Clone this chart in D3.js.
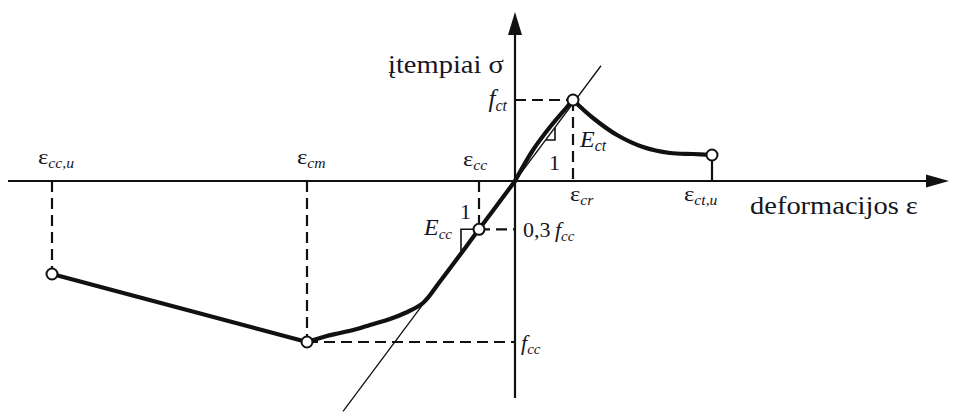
<!DOCTYPE html>
<html>
<head>
<meta charset="utf-8">
<script src="https://cdn.jsdelivr.net/npm/d3@7"></script>
<style>
  body { margin: 0; background: #fff; }
  svg { display: block; }
  text { font-family: "Liberation Serif", "Times New Roman", serif; fill: #16161f; }
</style>
</head>
<body>
<svg id="chart" width="955" height="414"></svg>
<script>
// Concrete stress–strain diagram (schematic units, compression negative)
const epsCCU = -4.63, epsCM = -2.08, epsCC = -0.36, epsCR = 0.58, epsCTU = 1.97;
const fct = 0.81, fcc = -1.61, sigCCU = -0.93, sigCTU = 0.26;
const sig03 = 0.3 * fcc;          // 0,3 f_cc
const E0 = 1.34;                  // slope of the initial modulus line
const tangentEps = [-1.72, 0.86];

const compressionEps = [0, epsCC, -0.75, -0.92, -1.10, -1.25, -1.45, -1.58, -1.75, -1.90, epsCM];
const compressionSig = [0, sig03, -1.005, -1.22, -1.32, -1.38, -1.44, -1.48, -1.52, -1.555, fcc];
const softeningEps = [epsCM, epsCCU];
const softeningSig = [fcc, sigCCU];
const tensionRiseEps = [0, 0.18, 0.35, 0.52, epsCR];
const tensionRiseSig = [0, 0.31, 0.54, 0.74, fct];
const tensionFallEps = [epsCR, 0.78, 1.02, 1.28, 1.55, 1.78, epsCTU];
const tensionFallSig = [fct, 0.63, 0.46, 0.34, 0.28, 0.27, sigCTU];

const markerEps = [epsCCU, epsCM, epsCC, epsCR, epsCTU];
const markerSig = [sigCCU, fcc, sig03, fct, sigCTU];

const svg = d3.select("#chart");
const x = d3.scaleLinear().domain([-5.07, 4.34]).range([8, 949]);
const y = d3.scaleLinear().domain([-2.17, 1.69]).range([398, 12]);
const X0 = x(0), Y0 = y(0);
const INK = "#111";

// axes with arrow heads
svg.append("line").attr("x1", x(-5.07)).attr("x2", x(4.34) - 20).attr("y1", Y0).attr("y2", Y0)
  .attr("stroke", INK).attr("stroke-width", 2.2);
svg.append("path").attr("d", `M${x(4.34)},${Y0} L${x(4.34) - 23},${Y0 - 6.5} L${x(4.34) - 23},${Y0 + 6.5} Z`).attr("fill", INK);
svg.append("line").attr("x1", X0).attr("x2", X0).attr("y1", y(-2.17)).attr("y2", y(1.69) + 20)
  .attr("stroke", INK).attr("stroke-width", 2.2);
svg.append("path").attr("d", `M${X0},${y(1.69)} L${X0 - 7},${y(1.69) + 23} L${X0 + 7},${y(1.69) + 23} Z`).attr("fill", INK);

// dashed guide lines
const dashed = [
  [[epsCCU, 0], [epsCCU, sigCCU]],
  [[epsCM, 0], [epsCM, fcc]],
  [[epsCM, fcc], [0, fcc]],
  [[epsCC, 0], [epsCC, sig03]],
  [[epsCC, sig03], [0, sig03]],
  [[0, fct], [epsCR, fct]],
  [[epsCR, fct], [epsCR, 0]]
];
svg.append("g").selectAll("line").data(dashed).join("line")
  .attr("x1", d => x(d[0][0])).attr("y1", d => y(d[0][1]))
  .attr("x2", d => x(d[1][0])).attr("y2", d => y(d[1][1]))
  .attr("stroke", INK).attr("stroke-width", 2.2).attr("stroke-dasharray", "11,6");
svg.append("line").attr("x1", x(epsCTU)).attr("x2", x(epsCTU)).attr("y1", y(sigCTU)).attr("y2", Y0)
  .attr("stroke", INK).attr("stroke-width", 2.2);

// initial modulus line
svg.append("line")
  .attr("x1", x(tangentEps[0])).attr("y1", y(E0 * tangentEps[0]))
  .attr("x2", x(tangentEps[1])).attr("y2", y(E0 * tangentEps[1]))
  .attr("stroke", INK).attr("stroke-width", 1.3);

// stress–strain curve
const smooth = d3.line().x(d => x(d[0])).y(d => y(d[1])).curve(d3.curveCatmullRom.alpha(0.5));
const straight = d3.line().x(d => x(d[0])).y(d => y(d[1]));
const zip = (a, b) => a.map((v, i) => [v, b[i]]);
const curve = svg.append("g").attr("fill", "none").attr("stroke", INK).attr("stroke-width", 4.2)
  .attr("stroke-linecap", "round").attr("stroke-linejoin", "round");
curve.append("path").attr("d", smooth(zip(compressionEps, compressionSig)));
curve.append("path").attr("d", straight(zip(softeningEps, softeningSig)));
curve.append("path").attr("d", smooth(zip(tensionRiseEps, tensionRiseSig)));
curve.append("path").attr("d", smooth(zip(tensionFallEps, tensionFallSig)));

// slope triangles
const triC = [epsCC - 0.18, sig03];
const triT = [0.40, 0.41];
const tri = svg.append("g").attr("fill", "none").attr("stroke", INK).attr("stroke-width", 1.6);
tri.append("path").attr("d", straight([[epsCC, sig03], triC, [triC[0], E0 * triC[0]]]));
tri.append("path").attr("d", straight([[triT[1] / E0, triT[1]], triT, [triT[0], E0 * triT[0]]]));

// circle markers
svg.append("g").selectAll("circle").data(zip(markerEps, markerSig)).join("circle")
  .attr("cx", d => x(d[0])).attr("cy", d => y(d[1])).attr("r", 5.5)
  .attr("fill", "#fff").attr("stroke", INK).attr("stroke-width", 2);

// labels: parts = [text, sub?, italic?]
function label(px, py, parts, opt = {}) {
  const size = opt.size || 22, sx = opt.sx || 1, subSize = opt.sub || size * 0.68;
  const t = svg.append("text").attr("transform", `translate(${px},${py}) scale(${sx},1)`)
    .attr("text-anchor", opt.anchor || "start").attr("font-size", size);
  let shifted = 0;
  parts.forEach(([s, sub, it]) => {
    const sp = t.append("tspan").text(s);
    if (it) sp.attr("font-style", "italic");
    if (sub) {
      sp.attr("font-size", subSize);
      if (!shifted) { sp.attr("dy", 4); shifted = 4; }
    } else if (shifted) { sp.attr("dy", -shifted); shifted = 0; }
  });
  return t;
}

label(388, 73, [["įtempiai σ"]], { size: 25, sx: 1.14 });
label(750, Y0 + 33, [["deformacijos ε"]], { size: 25, sx: 1.14 });

label(X0 - 8, y(fct) + 7, [["f", 0, 1], ["ct", 1, 1]], { anchor: "end", size: 25, sub: 16 });
label(x(epsCR) + 7, y(fct) + 47, [["E", 0, 1], ["ct", 1, 1]], { size: 24, sub: 16 });
label(x(triT[0]) - 6, y(triT[1]) + 30, [["1"]], { size: 22 });

label(x(epsCCU) - 14, Y0 - 17, [["ε"], ["cc,u", 1, 1]], { size: 22, sx: 1.12, sub: 14 });
label(x(epsCM) - 10, Y0 - 17, [["ε"], ["cm", 1, 1]], { size: 22, sx: 1.12, sub: 14 });
label(x(epsCC) - 16, Y0 - 15, [["ε"], ["cc", 1, 1]], { size: 22, sx: 1.12, sub: 14 });
label(x(epsCR) - 3, Y0 + 20, [["ε"], ["cr", 1, 1]], { size: 22, sx: 1.12, sub: 14 });
label(x(epsCTU) - 28, Y0 + 20, [["ε"], ["ct,u", 1, 1]], { size: 22, sx: 1.12, sub: 14 });

label(X0 + 8, y(sig03) + 8, [["0,3\u2009"], ["f", 0, 1], ["cc", 1, 1]], { size: 22, sub: 15 });
label(X0 + 6, y(fcc) + 8, [["f", 0, 1], ["cc", 1, 1]], { size: 22, sub: 15 });
label(x(triC[0]) - 9, y(sig03) + 6, [["E", 0, 1], ["cc", 1, 1]], { anchor: "end", size: 24, sub: 15 });
label(x(triC[0]) - 1, y(sig03) - 10, [["1"]], { size: 22 });
</script>
</body>
</html>
